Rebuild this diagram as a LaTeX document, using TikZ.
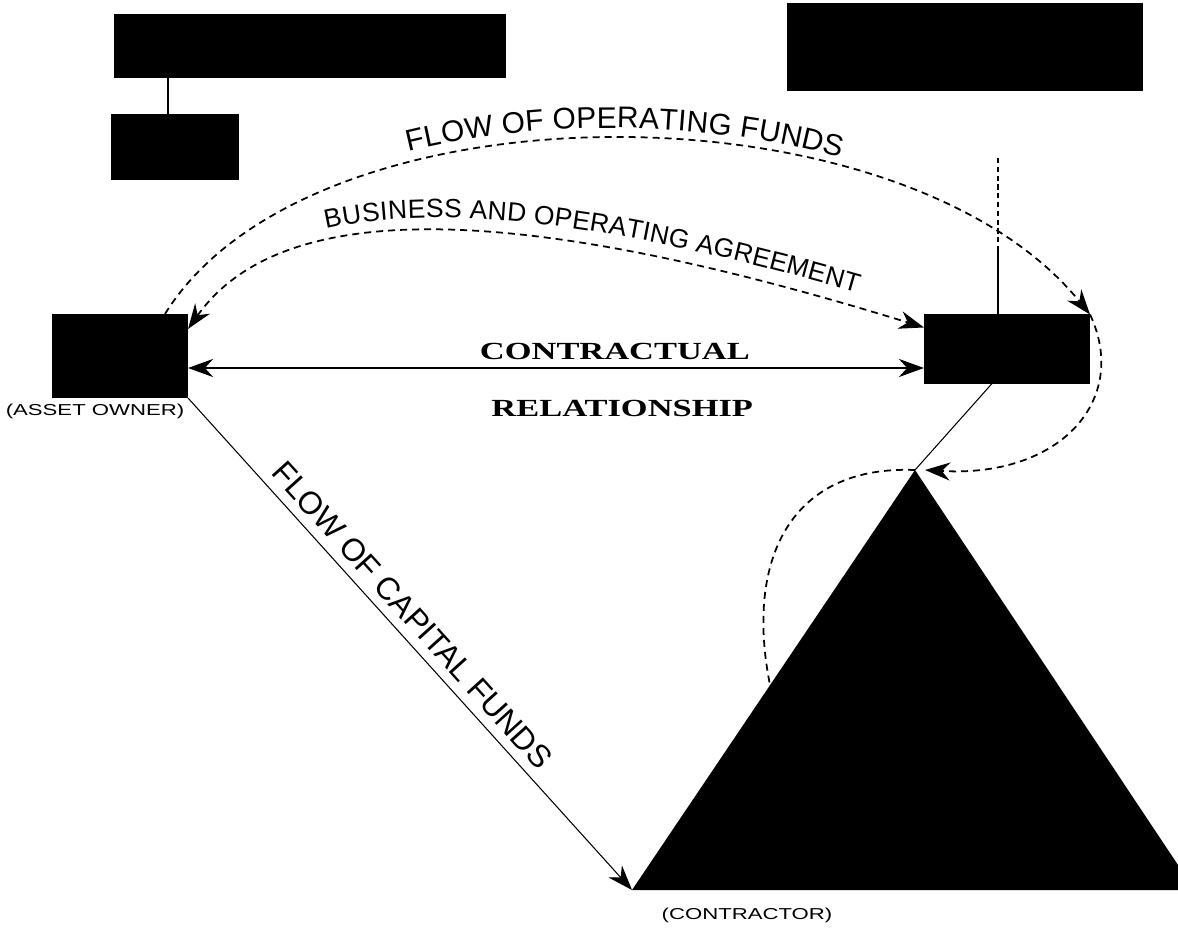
\documentclass[tikz,border=0pt]{standalone}
\usepackage{fontspec}
\setmainfont{Liberation Serif}
\setsansfont{Liberation Sans}
\newfontfamily\widesans[FakeStretch=1.4]{Liberation Sans}
\newfontfamily\wideserif[FakeStretch=1.4]{Liberation Serif}
\usetikzlibrary{arrows.meta,decorations.text}

\tikzset{
  >={Stealth[length=5mm,width=3.6mm]},
  party/.style={fill=black, draw=black, inner sep=0pt},
  fund/.style={line width=1pt, dash pattern=on 1.4mm off 1mm},
  tag/.style={font=\widesans\fontsize{9}{10}\selectfont, inner sep=1pt},
}

\begin{document}
\begin{tikzpicture}[x=0.2mm, y=-0.2mm, line width=0.6pt]
  \useasboundingbox (0,0) rectangle (1178,931);

  \node[party, minimum width=78mm, minimum height=12.4mm] (board) at (310,46) {};
  \node[party, minimum width=25.2mm, minimum height=13mm] (agency) at (175,147) {};
  \node[party, minimum width=70.8mm, minimum height=17.4mm] (trustee) at (965,47) {};
  \node[party, minimum width=27mm, minimum height=16.6mm] (owner) at (120,356) {};
  \node[party, minimum width=33mm, minimum height=13.6mm] (operator) at (1007,349) {};

  \coordinate (apex) at (915,470);
  \coordinate (base) at (632,890);
  \coordinate (flank) at (770,685);
  \coordinate (drop) at (998,158);
  \coordinate (join) at (998,250);
  \coordinate (level) at (0,368);
  \fill (apex) -- (1178,865) -- (1178,890) -- (base) -- cycle;

  \draw ([xshift=-1.4mm]agency.north) -- ([xshift=-1.4mm]agency.north |- board.south);
  \draw[densely dashed] (drop) -- (join);
  \draw (join) -- (join |- operator.north);

  \draw[line width=1.2pt, <->] (owner.east |- level) -- (operator.west |- level)
    node[pos=0.58, above=1pt, font=\wideserif\bfseries\fontsize{14}{16}\selectfont] {CONTRACTUAL}
    node[pos=0.59, below=5mm, font=\wideserif\bfseries\fontsize{14}{16}\selectfont] {RELATIONSHIP};

  \draw[fund, ->] ([xshift=9mm]owner.north) .. controls (310,80) and (900,80) .. (operator.north east);
  \path[decorate, decoration={text along path, text align=center, raise=6pt,
      text={|\sffamily\fontsize{17}{17}\selectfont|FLOW OF OPERATING FUNDS}}]
    ([xshift=9mm]owner.north) .. controls (310,80) and (900,80) .. (operator.north east);

  \draw[fund, <->] ([yshift=-3mm]owner.north east) .. controls (290,185) and (560,215) .. ([yshift=-2.6mm]operator.north west);
  \path[decorate, decoration={text along path, text align={align=center, left indent=19mm}, raise=8pt,
      text={|\sffamily\fontsize{15}{15}\selectfont|BUSINESS AND OPERATING AGREEMENT}}]
    ([yshift=-3mm]owner.north east) .. controls (290,185) and (560,215) .. ([yshift=-2.6mm]operator.north west);

  \draw[fund, ->] (operator.north east) .. controls (1130,400) and (1060,478) .. ([xshift=2mm]apex);
  \draw[fund] (apex) .. controls (790,465) and (745,560) .. (flank);
  \draw ([xshift=-3mm]operator.south) -- (apex);

  \draw[->] (owner.south east) -- (base)
    node[pos=0.47, sloped, above=2pt, font=\sffamily\fontsize{18}{18}\selectfont] {FLOW OF CAPITAL FUNDS};

  \node[tag, anchor=north] (ownertag) at (95,402) {(ASSET OWNER)};
  \node[tag, anchor=north] (buildertag) at (747,906) {(CONTRACTOR)};
\end{tikzpicture}
\end{document}
